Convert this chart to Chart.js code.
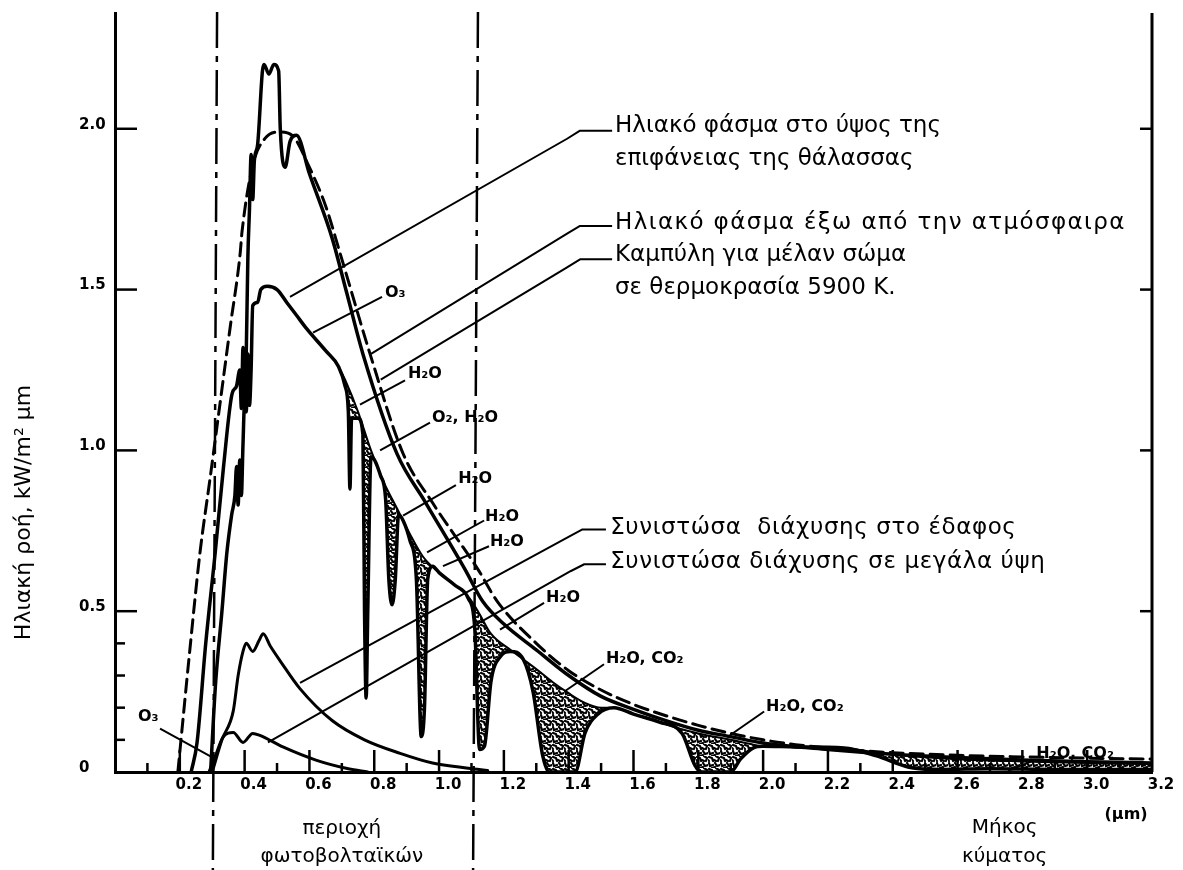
<!DOCTYPE html>
<html lang="el">
<head>
<meta charset="utf-8">
<title>Ηλιακό φάσμα</title>
<script src="https://cdn.jsdelivr.net/npm/chart.js@4.4.1/dist/chart.umd.min.js"></script>
<style>
  html, body { margin: 0; padding: 0; background: #fff; }
  #wrap { width: 1183px; height: 870px; }
</style>
</head>
<body>
<div id="wrap"><canvas id="spectrum" width="1183" height="870"></canvas></div>
<script>
// Μήκος κύματος (μm) -> ηλιακή ροή (kW/m² μm), διαβασμένα από το σχήμα
const blackBody = [[0.194,0],[0.23,0.37],[0.262,0.68],[0.293,0.91],[0.324,1.145],[0.355,1.38],[0.386,1.61],[0.392,1.68],[0.426,1.89],[0.463,1.97],[0.509,1.99],[0.546,1.98],[0.6,1.88],[0.65,1.76],[0.694,1.615],[0.787,1.30],[0.889,0.99],[0.98,0.837],[1.12,0.63],[1.18,0.53],[1.3,0.40],[1.4,0.315],[1.5,0.255],[1.6,0.21],[1.7,0.175],[1.8,0.145],[1.9,0.12],[2.0,0.1],[2.1,0.085],[2.2,0.075],[2.4,0.06],[2.6,0.052],[2.8,0.047],[3.0,0.043],[3.2,0.04]];

const outsideAtmosphere = [[0.235,0],[0.253,0.09],[0.28,0.4],[0.309,0.68],[0.335,0.95],[0.361,1.175],[0.375,1.2],[0.385,1.25],[0.39,1.13],[0.395,1.32],[0.40,1.15],[0.405,1.3],[0.41,1.6],[0.415,1.75],[0.42,1.92],[0.425,1.78],[0.43,1.9],[0.44,1.95],[0.455,2.18],[0.46,2.2],[0.475,2.17],[0.49,2.2],[0.505,2.18],[0.51,2.0],[0.525,1.88],[0.54,1.96],[0.56,1.98],[0.6,1.86],[0.67,1.66],[0.715,1.49],[0.765,1.3],[0.87,0.99],[0.957,0.84],[1.08,0.63],[1.135,0.53],[1.2,0.46],[1.3,0.38],[1.4,0.3],[1.5,0.235],[1.6,0.195],[1.7,0.16],[1.8,0.13],[1.9,0.11],[2.0,0.09],[2.2,0.07],[2.4,0.055],[2.6,0.045],[2.8,0.037],[3.0,0.032],[3.2,0.028]];

const seaLevel = [[0.295,0],[0.31,0.27],[0.33,0.5],[0.345,0.68],[0.36,0.8],[0.37,0.86],[0.375,0.95],[0.38,0.83],[0.385,0.97],[0.39,0.86],[0.395,1.02],[0.40,1.15],[0.405,1.12],[0.41,1.3],[0.415,1.14],[0.42,1.25],[0.425,1.45],[0.44,1.46],[0.45,1.5],[0.47,1.51],[0.5,1.5],[0.53,1.46],[0.56,1.42],[0.59,1.38],[0.65,1.31],[0.69,1.26],[0.71,1.2],[0.72,1.12],[0.725,0.88],[0.73,1.1],[0.75,1.1],[0.765,1.05],[0.77,0.5],[0.775,0.23],[0.78,0.5],[0.79,0.98],[0.82,0.92],[0.835,0.85],[0.845,0.6],[0.855,0.52],[0.865,0.6],[0.875,0.8],[0.89,0.78],[0.91,0.72],[0.93,0.6],[0.945,0.11],[0.955,0.2],[0.965,0.6],[0.98,0.64],[1.0,0.62],[1.05,0.58],[1.09,0.54],[1.11,0.45],[1.125,0.07],[1.14,0.08],[1.16,0.28],[1.19,0.36],[1.22,0.375],[1.26,0.35],[1.29,0.25],[1.32,0.05],[1.34,0],[1.42,0],[1.45,0.12],[1.49,0.18],[1.54,0.2],[1.6,0.18],[1.68,0.155],[1.75,0.12],[1.79,0.02],[1.81,0],[1.9,0],[1.93,0.04],[1.97,0.075],[2.0,0.08],[2.1,0.078],[2.25,0.075],[2.35,0.05],[2.45,0.015],[2.55,0.008],[2.7,0.01],[2.9,0.008],[3.2,0.008]];

// άνω όριο των σκιασμένων ζωνών απορρόφησης
const absorptionTop = [[0.69,1.26],[0.71,1.22],[0.75,1.12],[0.79,1.0],[0.83,0.9],[0.87,0.82],[0.91,0.74],[0.95,0.67],[1.0,0.62],[1.05,0.58],[1.09,0.545],[1.12,0.5],[1.16,0.43],[1.22,0.38],[1.26,0.35],[1.3,0.32],[1.35,0.28],[1.4,0.245],[1.45,0.215],[1.5,0.2],[1.54,0.2],[1.6,0.18],[1.68,0.155],[1.74,0.135],[1.8,0.12],[1.9,0.1],[1.97,0.085],[2.0,0.08],[2.25,0.075],[2.35,0.06],[2.45,0.05],[2.6,0.04],[2.8,0.033],[3.0,0.028],[3.2,0.025]];

const diffuseGround = [[0.3,0],[0.33,0.1],[0.365,0.19],[0.38,0.3],[0.395,0.375],[0.405,0.40],[0.425,0.375],[0.445,0.41],[0.457,0.43],[0.48,0.39],[0.51,0.345],[0.57,0.26],[0.67,0.16],[0.77,0.1],[0.88,0.058],[0.98,0.028],[1.09,0.012],[1.15,0.005]];

const diffuseHigh = [[0.29,0],[0.31,0.05],[0.333,0.108],[0.365,0.123],[0.395,0.092],[0.425,0.12],[0.447,0.114],[0.52,0.077],[0.62,0.037],[0.72,0.01],[0.78,0]];

const xTickLabels = [0.2, 0.4, 0.6, 0.8, 1.0, 1.2, 1.4, 1.6, 1.8, 2.0, 2.2, 2.4, 2.6, 2.8, 3.0, 3.2];
const yTickLabels = [0, 0.5, 1.0, 1.5, 2.0];

// όρια περιοχής φωτοβολταϊκών (πάνω, κάτω άκρο)
const pvBounds = [[0.315, 0.302], [1.12, 1.105]];

// κείμενα δεξιά: [κείμενο, x, y]
const noteLines = [
    ['Ηλιακό φάσμα στο ύψος της', 1.543, 2.009],
    ['επιφάνειας της θάλασσας', 1.543, 1.905],
    ['Ηλιακό φάσμα έξω από την ατμόσφαιρα', 1.543, 1.708],
    ['Καμπύλη για μέλαν σώμα', 1.543, 1.606],
    ['σε θερμοκρασία 5900 Κ.', 1.543, 1.505],
    ['Συνιστώσα  διάχυσης στο έδαφος', 1.528, 0.760],
    ['Συνιστώσα διάχυσης σε μεγάλα ύψη', 1.528, 0.652]
];
const noteLeaders = [
    [[1.534,1.994],[1.435,1.994],[1.395,1.969],[0.540,1.477]],
    [[1.534,1.698],[1.435,1.698],[1.395,1.674],[0.79,1.30]],
    [[1.534,1.594],[1.435,1.594],[1.395,1.569],[0.82,1.22]],
    [[1.515,0.754],[1.441,0.754],[1.401,0.732],[0.571,0.277]],
    [[1.515,0.646],[1.448,0.646],[1.407,0.625],[0.472,0.092]]
];

// ζώνες απορρόφησης
const bandLabels = [
    ['O₃', 0.833, 1.489], ['H₂O', 0.904, 1.237], ['O₂, H₂O', 0.978, 1.102],
    ['H₂O', 1.059, 0.911], ['H₂O', 1.142, 0.794], ['H₂O', 1.157, 0.717],
    ['H₂O', 1.330, 0.542], ['H₂O, CO₂', 1.515, 0.351], ['H₂O, CO₂', 2.009, 0.203],
    ['H₂O, CO₂', 2.843, 0.058], ['O₃', 0.071, 0.172]
];
const bandLeaders = [
    [[0.824,1.477],[0.611,1.366]], [[0.895,1.218],[0.756,1.142]], [[0.972,1.086],[0.818,1.0]],
    [[1.052,0.892],[0.889,0.797]], [[1.139,0.782],[0.963,0.683]], [[1.154,0.702],[1.012,0.64]],
    [[1.324,0.526],[1.188,0.443]], [[1.509,0.335],[1.389,0.252]], [[2.003,0.188],[1.889,0.108]],
    [[2.836,0.036],[2.756,0.004]], [[0.139,0.135],[0.299,0.046]]
];

const toPoints = arr => arr.map(p => ({ x: p[0], y: p[1] }));

// στικτή υφή των ζωνών απορρόφησης
function makeStipple(ctx) {
    const tile = document.createElement('canvas');
    tile.width = 12; tile.height = 12;
    const g = tile.getContext('2d');
    g.fillStyle = '#fff';
    g.fillRect(0, 0, 12, 12);
    g.strokeStyle = '#000';
    g.lineWidth = 2.2;
    g.lineCap = 'round';
    const worms = [[[1,1],[4,2],[5,5]], [[8,0],[11,2],[10,5]], [[1,7],[2,10],[5,9]], [[7,7],[9,10],[12,9]], [[4,12],[7,11]], [[6,4],[8,5]], [[0,4],[1,5]]];
    worms.forEach(w => {
        g.beginPath();
        g.moveTo(w[0][0], w[0][1]);
        w.slice(1).forEach(p => g.lineTo(p[0], p[1]));
        g.stroke();
    });
    return ctx.createPattern(tile, 'repeat');
}

const FONT = '"DejaVu Sans", "Noto Sans", sans-serif';

const figureDecor = {
    id: 'figureDecor',
    afterDatasetsDraw(chart) {
        const { ctx, chartArea: area, scales: { x, y } } = chart;
        const px = v => x.getPixelForValue(v);
        const py = v => y.getPixelForValue(v);
        const line = (pts) => {
            ctx.beginPath();
            ctx.moveTo(pts[0][0], pts[0][1]);
            pts.slice(1).forEach(p => ctx.lineTo(p[0], p[1]));
            ctx.stroke();
        };

        ctx.save();
        ctx.strokeStyle = '#000';
        ctx.fillStyle = '#000';

        // εσωτερικές υποδιαιρέσεις των αξόνων
        ctx.lineWidth = 2.5;
        x.ticks.forEach(t => {
            const tenth = Math.round(t.value * 10);
            if (tenth <= 0 || tenth >= 32) return;
            const len = tenth % 2 === 0 ? 22 : 9;
            line([[px(t.value), area.bottom], [px(t.value), area.bottom - len]]);
        });
        y.ticks.forEach(t => {
            const tenth = Math.round(t.value * 10);
            if (tenth <= 0 || tenth > 20) return;
            const major = tenth % 5 === 0;
            if (!major && tenth > 5) return;
            line([[area.left, py(t.value)], [area.left + (major ? 22 : 10), py(t.value)]]);
            if (major) line([[area.right, py(t.value)], [area.right - 12, py(t.value)]]);
        });

        // δεξιός άξονας
        ctx.lineWidth = 3;
        line([[area.right, area.top], [area.right, area.bottom]]);

        // όρια περιοχής φωτοβολταϊκών
        ctx.lineWidth = 2.5;
        ctx.setLineDash([36, 8, 6, 8]);
        pvBounds.forEach(b => line([[px(b[0]), area.top - 1], [px(b[1]), chart.height]]));
        ctx.setLineDash([]);

        // οδηγοί και κείμενα
        ctx.lineWidth = 2;
        ctx.lineJoin = 'round';
        noteLeaders.concat(bandLeaders).forEach(l => line(l.map(p => [px(p[0]), py(p[1])])));

        ctx.textBaseline = 'middle';
        ctx.textAlign = 'left';
        ctx.font = '23px ' + FONT;
        noteLines.forEach((n, i) => {
            ctx.letterSpacing = i === 2 ? '1.4px' : (i >= 5 ? '0.6px' : '0px');
            ctx.fillText(n[0], px(n[1]), py(n[2]));
        });
        ctx.letterSpacing = '0px';

        ctx.font = 'bold 16px ' + FONT;
        bandLabels.forEach(b => ctx.fillText(b[0], px(b[1]), py(b[2])));

        // τίτλοι κάτω από τον άξονα
        ctx.textAlign = 'center';
        ctx.font = '20px ' + FONT;
        ctx.fillText('περιοχή', px(0.70), area.bottom + 57);
        ctx.fillText('φωτοβολταϊκών', px(0.70), area.bottom + 85);
        ctx.fillText('Μήκος', px(2.745), area.bottom + 56);
        ctx.fillText('κύματος', px(2.745), area.bottom + 85);
        ctx.font = 'bold 16px ' + FONT;
        ctx.fillText('(μm)', px(3.12), area.bottom + 43);

        // τίτλος άξονα y
        ctx.save();
        ctx.translate(24, py(0.41));
        ctx.rotate(-Math.PI / 2);
        ctx.textAlign = 'left';
        ctx.font = '22px ' + FONT;
        ctx.fillText('Ηλιακή ροή, kW/m² μm', 0, 0);
        ctx.restore();

        ctx.restore();
    }
};

const canvas = document.getElementById('spectrum');
const stipple = makeStipple(canvas.getContext('2d'));

const lineStyle = (data, width, extra) => Object.assign({
    data: toPoints(data),
    borderColor: '#000',
    borderWidth: width,
    pointRadius: 0,
    fill: false,
    cubicInterpolationMode: 'monotone'
}, extra || {});

new Chart(canvas, {
    type: 'line',
    data: {
        datasets: [
            lineStyle(absorptionTop, 2, { label: 'absorption', fill: 1, backgroundColor: stipple }),
            lineStyle(seaLevel, 3.5, { label: 'sea level' }),
            lineStyle(outsideAtmosphere, 3.5, { label: 'AM0' }),
            lineStyle(blackBody, 3, { label: 'black body 5900 K', borderDash: [13, 7] }),
            lineStyle(diffuseGround, 3, { label: 'diffuse ground' }),
            lineStyle(diffuseHigh, 3, { label: 'diffuse high' })
        ]
    },
    options: {
        responsive: false,
        animation: false,
        events: [],
        layout: { padding: { left: 79, right: 31, top: 8, bottom: 68 } },
        elements: { line: { borderJoinStyle: 'round', borderCapStyle: 'round' } },
        plugins: {
            legend: { display: false },
            tooltip: { enabled: false },
            filler: { drawTime: 'beforeDatasetsDraw' }
        },
        scales: {
            x: {
                type: 'linear',
                min: 0,
                max: 3.2,
                afterFit: (s) => { s.height = 30; },
                grid: { display: false, drawTicks: false },
                border: { display: true, color: '#000', width: 3 },
                ticks: {
                    stepSize: 0.1,
                    autoSkip: false,
                    maxRotation: 0,
                    padding: 4,
                    labelOffset: 9,
                    color: '#000',
                    font: { family: FONT, weight: 'bold', size: 15 },
                    callback: (v) => xTickLabels.some(l => Math.abs(l - v) < 1e-6) ? v.toFixed(1) : ''
                }
            },
            y: {
                min: 0,
                max: 2.36,
                afterFit: (s) => { s.width = 36; },
                grid: { display: false, drawTicks: false },
                border: { display: true, color: '#000', width: 3 },
                ticks: {
                    stepSize: 0.1,
                    autoSkip: false,
                    crossAlign: 'far',
                    padding: 4,
                    labelOffset: -4,
                    color: '#000',
                    font: { family: FONT, weight: 'bold', size: 15 },
                    callback: (v) => yTickLabels.some(l => Math.abs(l - v) < 1e-6) ? (v === 0 ? '0' : v.toFixed(1)) : ''
                }
            }
        }
    },
    plugins: [figureDecor]
});
</script>
</body>
</html>
